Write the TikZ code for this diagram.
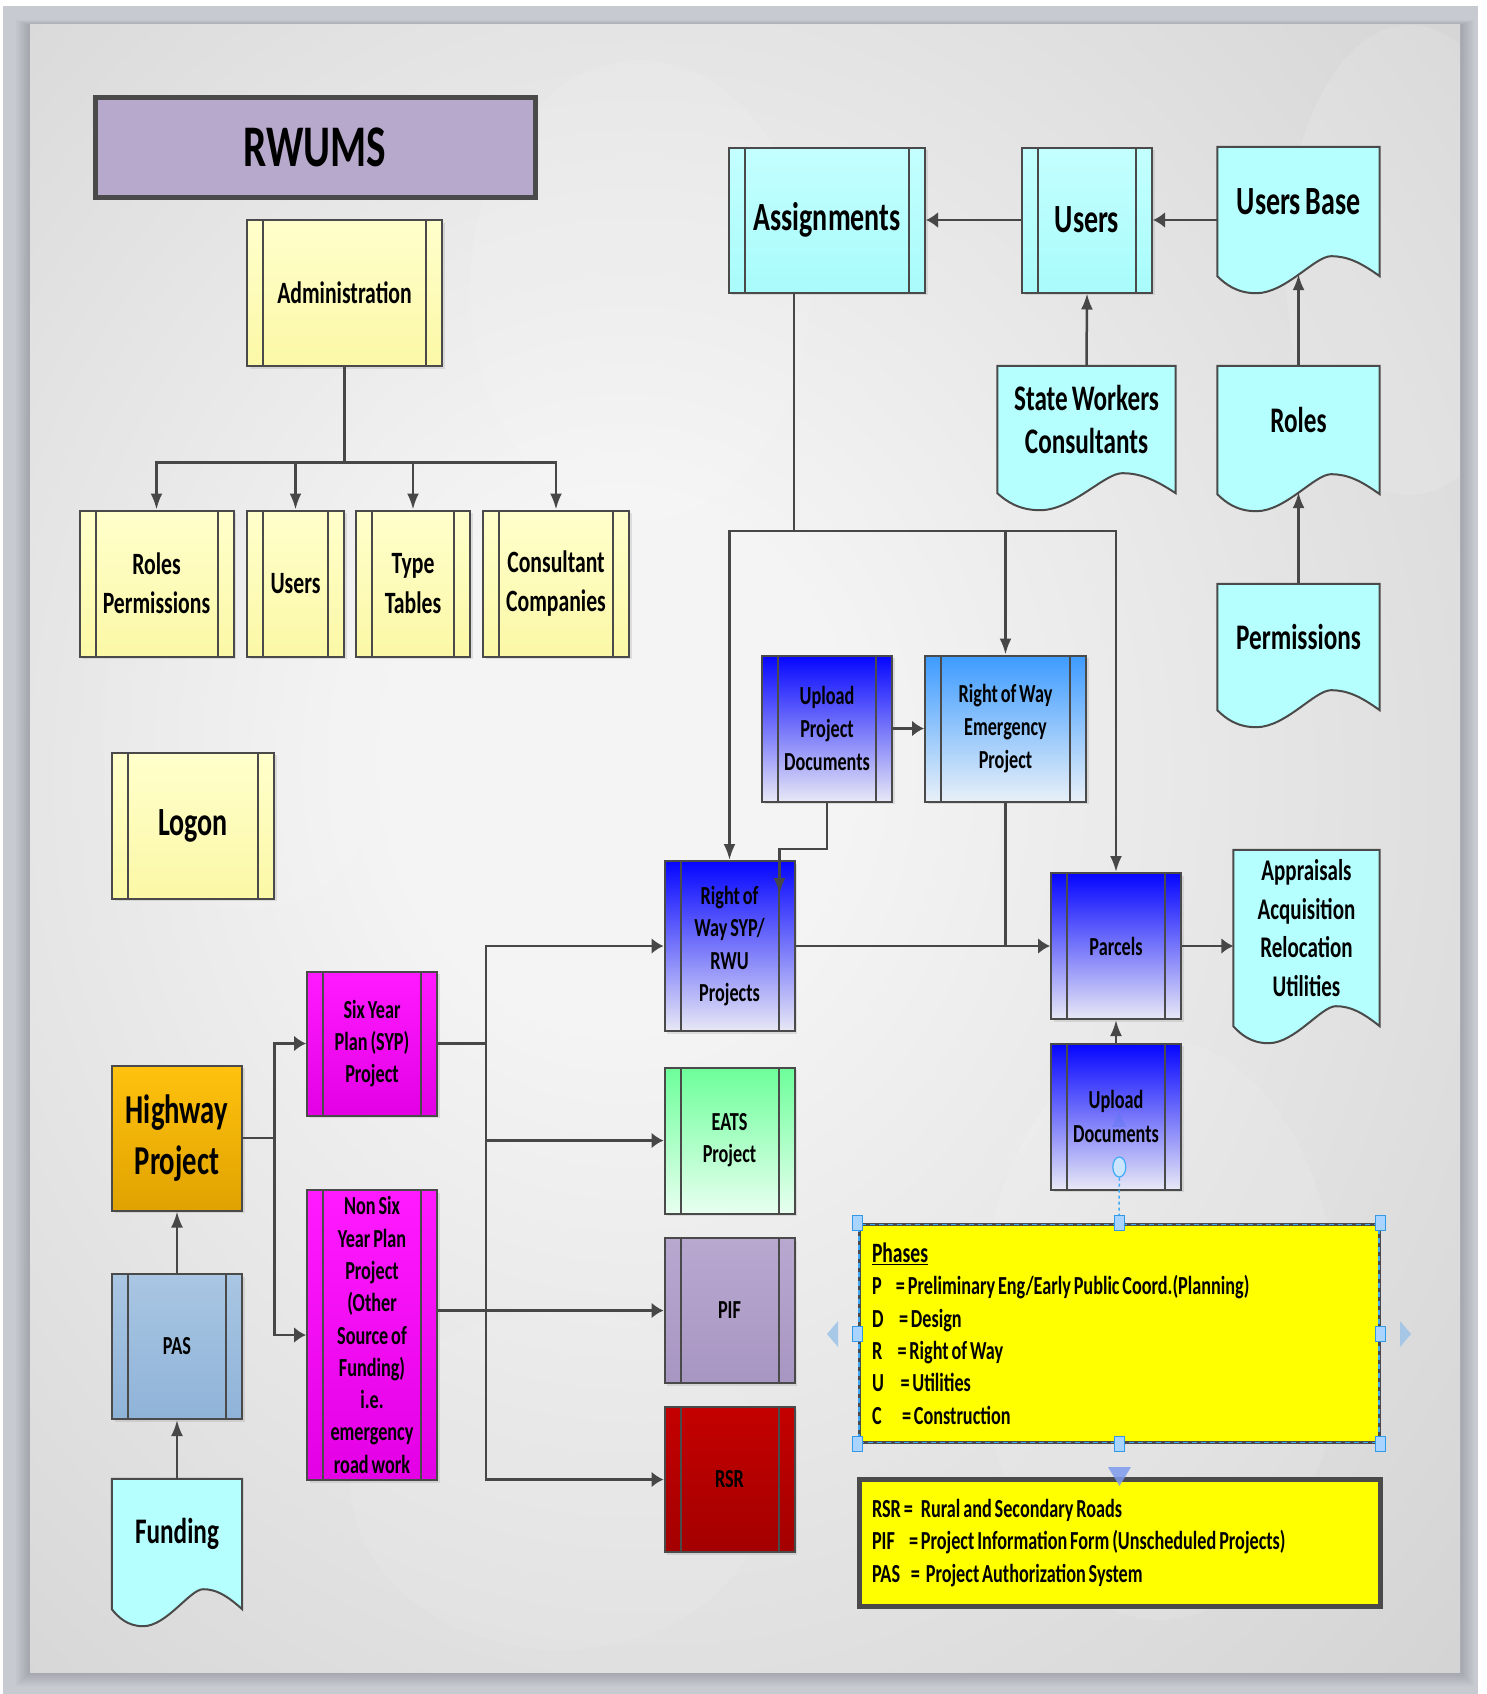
\documentclass[tikz,border=0pt]{standalone}
\usepackage{fontspec}
\setmainfont{Carlito}[FakeStretch=0.7, WordSpace=0.7]
\usetikzlibrary{calc,arrows.meta,shadows,shapes.geometric}

\definecolor{framegray}{HTML}{C7CBD1}
\definecolor{glowin}{HTML}{F4F4F4}
\definecolor{glowout}{HTML}{C9C9C9}
\definecolor{boxline}{HTML}{4A4A4A}
\definecolor{linegray}{HTML}{474747}
\definecolor{rwumsfill}{HTML}{B6A9CB}
\definecolor{yeltop}{HTML}{FFFFCC}
\definecolor{yelbot}{HTML}{FBF8A6}
\definecolor{cyantop}{HTML}{C4FFFF}
\definecolor{cyanbot}{HTML}{A9FBFB}
\definecolor{docfill}{HTML}{B5FFFF}
\definecolor{bluetop}{HTML}{0505FF}
\definecolor{bluebot}{HTML}{E8E8F6}
\definecolor{skytop}{HTML}{3D9BFF}
\definecolor{skybot}{HTML}{E8F0F8}
\definecolor{greentop}{HTML}{6DFF9A}
\definecolor{greenbot}{HTML}{E8FFF0}
\definecolor{purptop}{HTML}{B8A8D0}
\definecolor{purpbot}{HTML}{A896C2}
\definecolor{redtop}{HTML}{C40000}
\definecolor{redbot}{HTML}{A30000}
\definecolor{magtop}{HTML}{FF1AFF}
\definecolor{magbot}{HTML}{E400E4}
\definecolor{orgtop}{HTML}{FFC20E}
\definecolor{orgbot}{HTML}{E0A200}
\definecolor{steeltop}{HTML}{A9C6E3}
\definecolor{steelbot}{HTML}{8FB3D8}
\definecolor{notefill}{HTML}{FFFF00}
\definecolor{selblue}{HTML}{3FA9F5}
\definecolor{handlefill}{HTML}{A8D4FF}
\definecolor{handleline}{HTML}{3399E6}
\definecolor{tripale}{HTML}{9DC3E8}

\pgfdeclarelayer{back}
\pgfdeclarelayer{docs}
\pgfsetlayers{back,docs,main}

\pgfdeclareradialshading{panelglow}{\pgfpoint{-5bp}{3bp}}{color(0bp)=(glowin); color(8bp)=(glowin); color(48bp)=(glowout); color(75bp)=(glowout)}

% document shape with a wavy bottom, drawn behind the node text
\newcommand{\docwave}[1]{%
  \begin{pgfonlayer}{docs}
  \filldraw[fill=docfill, draw=boxline, line width=2pt] (#1.north west) -- (#1.north east) -- ($(#1.south east)+(0,20)$)
    .. controls ($(#1.south west)!0.88!(#1.south east)+(0,6)$) and ($(#1.south west)!0.8!(#1.south east)$) .. ($(#1.south west)!0.7!(#1.south east)$)
    .. controls ($(#1.south west)!0.6!(#1.south east)$) and ($(#1.south west)!0.42!(#1.south east)+(0,37)$) .. ($(#1.south west)!0.24!(#1.south east)+(0,37)$)
    .. controls ($(#1.south west)!0.12!(#1.south east)+(0,37)$) and ($(#1.south west)!0.05!(#1.south east)+(0,28)$) .. ($(#1.south west)+(0,20)$)
    -- cycle;
  \end{pgfonlayer}}

\begin{document}
\begin{tikzpicture}[x=1pt, y=-1pt,
  wire/.style={draw=linegray, line width=2.5pt},
  varr/.style={->, >={Latex[length=16pt,width=12pt]}},
  harr/.style={->, >={Latex[length=12pt,width=16pt]}},
  fs/.style 2 args={font=\fontsize{#1}{#2}\selectfont\bfseries},
  box/.style={rectangle, draw=boxline, line width=2pt, inner sep=0pt, align=center,
    drop shadow={shadow xshift=2.5pt, shadow yshift=-2.5pt, opacity=0.2}},
  sub/.style={box, path picture={
    \draw[boxline, line width=2pt]
      ([xshift=16pt]path picture bounding box.north west) -- ([xshift=16pt]path picture bounding box.south west)
      ([xshift=-16pt]path picture bounding box.north east) -- ([xshift=-16pt]path picture bounding box.south east);}},
  docnode/.style={rectangle, inner sep=0pt, align=center},
  yellowbox/.style={sub, top color=yeltop, bottom color=yelbot},
  cyanbox/.style={sub, top color=cyantop, bottom color=cyanbot},
  bluebox/.style={sub, top color=bluetop, bottom color=bluebot},
  selhandle/.style={rectangle, draw=handleline, fill=handlefill, line width=1pt, minimum width=10pt, minimum height=15pt, inner sep=0pt}]

\useasboundingbox (0,0) rectangle (1486,1694);

% frame and background panel
\begin{pgfonlayer}{back}
\fill[framegray] (3,6) rectangle (1478,1694);
\foreach \d in {2,4,...,14}
  \fill[black, opacity=0.025] (30-\d,25-\d/3) rectangle (1460+\d,1672+\d);
\shade[shading=panelglow] (30,25) rectangle (1460,1672);
\begin{scope}
\clip (30,25) rectangle (1460,1672);
\fill[white, opacity=0.12] (1410,260) ellipse (125 and 235);
\fill[white, opacity=0.10] (640,290) ellipse (170 and 230);
\fill[white, opacity=0.10] (1160,1330) ellipse (180 and 290);
\fill[white, opacity=0.08] (250,720) ellipse (150 and 190);
\fill[white, opacity=0.08] (560,1480) ellipse (210 and 170);
\end{scope}
\end{pgfonlayer}

% title and administration tree
\node[box, fill=rwumsfill, line width=5pt, minimum width=440pt, minimum height=100pt, fs={59}{70}] (rwums) at (315,147) {RWUMS};
\node[yellowbox, minimum width=195pt, minimum height=146pt, fs={31}{39.3}] (admin) at (344.5,293) {Administration};
\node[yellowbox, minimum width=154pt, minimum height=146pt, fs={31}{39.3}] (rolesperm) at (156.5,583.5) {Roles\\Permissions};
\node[yellowbox, minimum width=97pt, minimum height=146pt, fs={31}{39.3}] (usersadm) at (295.5,583.5) {Users};
\node[yellowbox, minimum width=114pt, minimum height=146pt, fs={31}{39.3}] (types) at (413,583.5) {Type\\Tables};
\node[yellowbox, minimum width=146pt, minimum height=146pt, fs={31}{39.3}] (consult) at (556,583.5) {Consultant\\Companies};
\node[yellowbox, minimum width=162pt, minimum height=146pt, fs={40}{48}] (logon) at (193,825.5) {Logon};

\coordinate (bus) at (344.5,462.5);
\draw[wire] (admin.south) -- (bus);
\draw[wire, varr] (bus) -| (rolesperm.north);
\draw[wire, varr] (bus) -| (usersadm.north);
\draw[wire, varr] (bus) -| (types.north);
\draw[wire, varr] (bus) -| (consult.north);

% users and assignments
\node[cyanbox, minimum width=196pt, minimum height=145pt, fs={40}{48}] (assign) at (827,220) {Assignments};
\node[cyanbox, minimum width=130pt, minimum height=145pt, fs={40}{48}] (users) at (1087,220) {Users};
\node[docnode, minimum width=162pt, minimum height=109pt, fs={40}{48}] (usersbase) at (1298.5,201.5) {Users Base};
\node[docnode, minimum width=178pt, minimum height=107pt, fs={36}{43.5}] (swc) at (1086.5,419.5) {State Workers\\Consultants};
\node[docnode, minimum width=162pt, minimum height=108pt, fs={36}{43.5}] (roles) at (1298.5,420) {Roles};
\node[docnode, minimum width=162pt, minimum height=106pt, fs={36}{43.5}] (perms) at (1298.5,637) {Permissions};
\docwave{usersbase}
\docwave{swc}
\docwave{roles}
\docwave{perms}

\draw[wire, harr] (usersbase.west |- users.east) -- (users.east);
\draw[wire, harr] (users.west) -- (assign.east);
\draw[wire, varr] (swc.north) -- (users.south);
\draw[wire, varr] (roles.north) -- ($(usersbase.south)+(0,18)$);
\draw[wire, varr] (perms.north) -- ($(roles.south)+(0,18)$);

% right of way projects
\node[bluebox, minimum width=130pt, minimum height=146pt, fs={26}{32.8}] (upd) at (827,728.5) {Upload\\Project\\Documents};
\node[sub, top color=skytop, bottom color=skybot, minimum width=161pt, minimum height=146pt, fs={26}{33.3}] (rowe) at (1005.5,728.5) {Right of Way\\Emergency\\Project};
\node[bluebox, minimum width=130pt, minimum height=170pt, fs={26}{32.4}] (rowsyp) at (729.5,946) {Right of\\Way SYP/\\RWU\\Projects};
\node[bluebox, minimum width=130pt, minimum height=146pt, fs={26}{32.4}] (parcels) at (1116,946) {Parcels};
\node[bluebox, minimum width=130pt, minimum height=146pt, fs={26}{33.2}] (upldoc) at (1116,1116.5) {Upload\\Documents};
\node[docnode, minimum width=146pt, minimum height=156pt, fs={30}{38.5}] (apprais) at (1306.5,928) {Appraisals\\Acquisition\\Relocation\\Utilities};
\docwave{apprais}

\coordinate (asgturn) at (794,531);
\draw[wire] (assign.south -| asgturn) -- (asgturn);
\draw[wire, varr] (asgturn) -| (rowsyp.north);
\draw[wire, varr] (asgturn) -| (parcels.north);
\draw[wire, varr] (rowe.north |- asgturn) -- (rowe.north);
\draw[wire, harr] (upd.east) -- (rowe.west);
\coordinate (updturn) at (827,849);
\draw[wire, varr] (upd.south) -- (updturn) -| ($(rowsyp.north east)+(-16,34)$);
\draw[wire] (rowe.south) -- (rowe.south |- parcels.west);
\draw[wire, harr] (rowsyp.east) -- (parcels.west);
\draw[wire, harr] (parcels.east) -- (parcels.east -| apprais.west);
\draw[wire, varr] (upldoc.north) -- (parcels.south);

% highway project and its branches
\node[box, top color=orgtop, bottom color=orgbot, minimum width=130pt, minimum height=145pt, fs={41}{51}] (highway) at (177,1138) {Highway\\Project};
\node[sub, top color=steeltop, bottom color=steelbot, minimum width=130pt, minimum height=145pt, fs={26}{32.4}] (pas) at (177,1346.5) {PAS};
\node[docnode, minimum width=130pt, minimum height=110pt, fs={36}{43}] (funding) at (177,1534) {Funding};
\docwave{funding}
\node[sub, top color=magtop, bottom color=magbot, minimum width=130pt, minimum height=144pt, fs={26}{32.3}] (syp) at (372,1043.5) {Six Year\\Plan (SYP)\\Project};
\node[sub, top color=magtop, bottom color=magbot, minimum width=130pt, minimum height=290pt, fs={26}{32.3}] (nonsyp) at (372,1335) {Non Six\\Year Plan\\Project\\(Other\\Source of\\Funding)\\i.e.\\emergency\\road work};
\node[sub, top color=greentop, bottom color=greenbot, minimum width=130pt, minimum height=146pt, fs={26}{32}] (eats) at (729.5,1140.5) {EATS\\Project};
\node[sub, top color=purptop, bottom color=purpbot, minimum width=130pt, minimum height=145pt, fs={26}{32}] (pif) at (729.5,1310.5) {PIF};
\node[sub, top color=redtop, bottom color=redbot, minimum width=130pt, minimum height=145pt, fs={26}{32}] (rsr) at (729.5,1479.5) {RSR};

\draw[wire, varr] (funding.north) -- (pas.south);
\draw[wire, varr] (pas.north) -- (highway.south);
\coordinate (hwturn) at (274.5,1138);
\draw[wire] (highway.east) -- (hwturn);
\draw[wire, harr] (hwturn) |- (syp.west);
\draw[wire, harr] (hwturn) |- (nonsyp.west);
\coordinate (sypturn) at (486,1043.5);
\draw[wire] (syp.east) -- (sypturn);
\draw[wire, harr] (sypturn) |- (rowsyp.west);
\draw[wire, harr] (sypturn) |- (eats.west);
\draw[wire, harr] (sypturn) |- (rsr.west);
\draw[wire, harr] (nonsyp.east |- pif.west) -- (pif.west);

% legends
\node[rectangle, fill=notefill, draw=boxline, line width=3pt, postaction={draw=selblue, line width=1.5pt, dash pattern=on 5pt off 4pt},
  minimum width=520pt, minimum height=218pt, inner xsep=13pt, inner ysep=0pt, text width=494pt, align=flush left, fs={26}{32.3}] (phases) at (1119,1333.6)
  {{\fontsize{28}{32.3}\selectfont\underline{Phases}}\\
   \makebox[24pt][l]{P}= Preliminary Eng/Early Public Coord.(Planning)\\
   \makebox[27pt][l]{D}= Design\\
   \makebox[25.5pt][l]{R}= Right of Way\\
   \makebox[28.5pt][l]{U}= Utilities\\
   \makebox[30pt][l]{C}= Construction};
\node[rectangle, fill=notefill, draw=boxline, line width=5pt, drop shadow={shadow xshift=2.5pt, shadow yshift=-2.5pt, opacity=0.3},
  minimum width=521pt, minimum height=127pt, inner xsep=13pt, inner ysep=0pt, text width=495pt, align=flush left, fs={26}{32.3}] (abbrev) at (1119.5,1543)
  {RSR =\hspace{8pt}Rural and Secondary Roads\\
   \makebox[37pt][l]{PIF}= Project Information Form (Unscheduled Projects)\\
   \makebox[38.8pt][l]{PAS}=\hspace{6pt}Project Authorization System};

% selection marks
\foreach \p in {north west, north, north east, east, south east, south, south west, west}
  \node[selhandle] at (phases.\p) {};
\node[ellipse, draw=selblue, fill=handlefill!60, line width=1.2pt, minimum width=13pt, minimum height=20pt, inner sep=0pt] (glue) at (1119.3,1167) {};
\draw[selblue, line width=1.5pt, dashed] (glue.south) -- ($(phases.north)+(0,-8)$);
\fill[tripale, opacity=0.85] (827,1334) -- (838,1321) -- (838,1347) -- cycle;
\fill[tripale, opacity=0.85] (1411,1334) -- (1400,1321) -- (1400,1347) -- cycle;
\fill[tripale!80!blue, opacity=0.85] (1108,1467) -- (1131,1467) -- (1119.5,1486) -- cycle;
\fill[tripale!60!blue, opacity=0.45] (1119,1112) -- (1126,1127) -- (1112,1127) -- cycle;

\end{tikzpicture}
\end{document}
